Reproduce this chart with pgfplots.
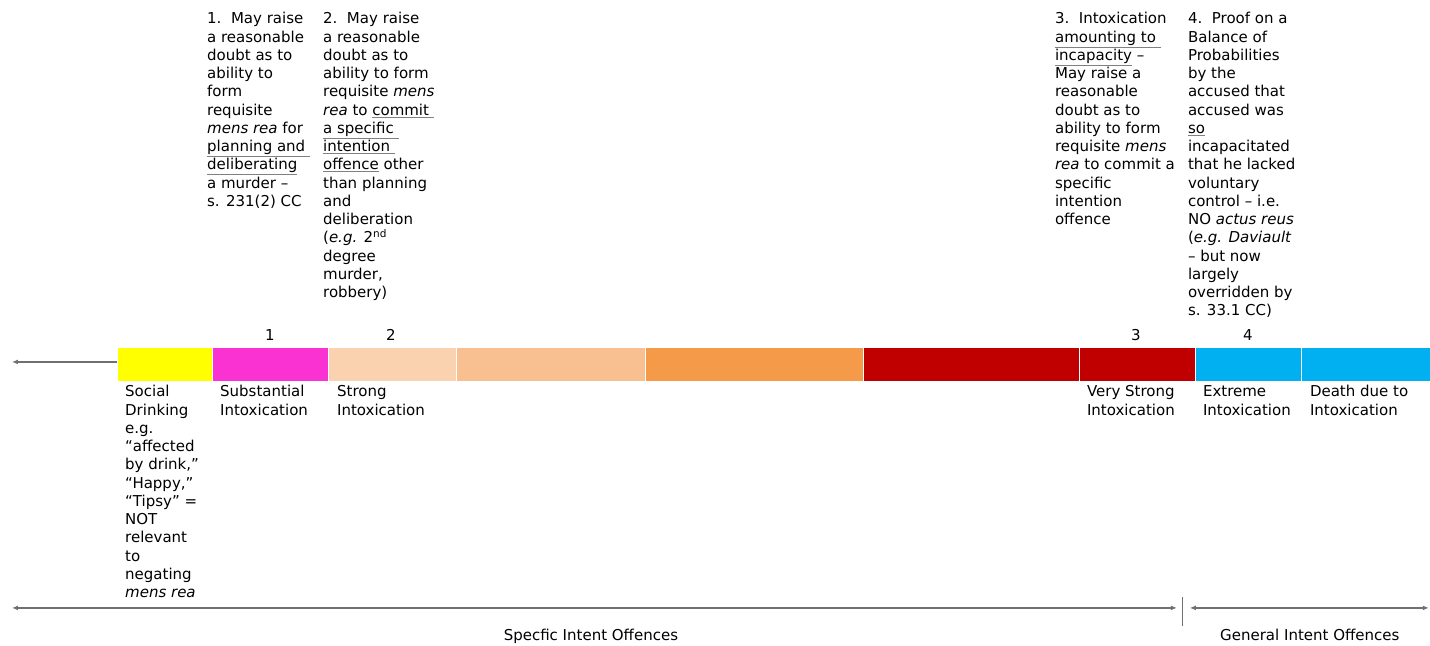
\documentclass[border=0pt]{standalone}
\usepackage{pgfplots}
\pgfplotsset{compat=1.18}
\usepackage{fontspec}
\setmainfont{DejaVu Sans}
\usetikzlibrary{arrows.meta}
\definecolor{cYel}{HTML}{FFFF00}
\definecolor{cMag}{HTML}{FA32D2}
\definecolor{cPeach1}{HTML}{FAD2B0}
\definecolor{cPeach2}{HTML}{F8BF90}
\definecolor{cOrange}{HTML}{F59A48}
\definecolor{cRed}{HTML}{C00000}
\definecolor{cBlue}{HTML}{00B0F0}
\definecolor{cLine}{HTML}{707070}
\newcommand{\ul}[1]{{\color{gray}\underline{\color{black}#1}}}
\begin{document}
\begin{tikzpicture}[
  txt/.style={anchor=north west, inner sep=0pt, align=left, font=\fontsize{15bp}{18.25bp}\selectfont},
  one/.style={anchor=base, inner sep=0pt, font=\fontsize{15bp}{18.25bp}\selectfont},
  arr/.style={cLine, line width=1.2bp},
]
\begin{axis}[
  width=1430bp, height=646bp, scale only axis,
  xmin=0, xmax=1430, ymin=0, ymax=646, y dir=reverse,
  hide axis, clip=false,
]
% bounding box
\addplot[draw=none, forget plot] coordinates {(0,0) (1430,646)};
% colour segments: x from, x to, y 347..381
\addplot[fill=cYel, draw=white, line width=0.4bp] coordinates {(117,347)(212,347)(212,381)(117,381)} -- cycle;
\addplot[fill=cMag, draw=white, line width=0.4bp] coordinates {(212,347)(328,347)(328,381)(212,381)} -- cycle;
\addplot[fill=cPeach1, draw=white, line width=0.4bp] coordinates {(328,347)(456,347)(456,381)(328,381)} -- cycle;
\addplot[fill=cPeach2, draw=white, line width=0.4bp] coordinates {(456,347)(645,347)(645,381)(456,381)} -- cycle;
\addplot[fill=cOrange, draw=white, line width=0.4bp] coordinates {(645,347)(863,347)(863,381)(645,381)} -- cycle;
\addplot[fill=cRed, draw=white, line width=0.4bp] coordinates {(863,347)(1079,347)(1079,381)(863,381)} -- cycle;
\addplot[fill=cRed, draw=white, line width=0.4bp] coordinates {(1079,347)(1195,347)(1195,381)(1079,381)} -- cycle;
\addplot[fill=cBlue, draw=white, line width=0.4bp] coordinates {(1195,347)(1301,347)(1301,381)(1195,381)} -- cycle;
\addplot[fill=cBlue, draw=white, line width=0.4bp] coordinates {(1301,347)(1430,347)(1430,381)(1301,381)} -- cycle;

% arrows
\draw[arr, -{Latex[length=6bp,width=5bp]}] (axis cs:117,362) -- (axis cs:12,362);
\draw[arr, {Latex[length=6bp,width=5bp]}-{Latex[length=6bp,width=5bp]}] (axis cs:12,608) -- (axis cs:1177,608);
\draw[arr, {Latex[length=6bp,width=5bp]}-{Latex[length=6bp,width=5bp]}] (axis cs:1190,608) -- (axis cs:1429,608);
\draw[cLine, line width=0.8bp] (axis cs:1183,597) -- (axis cs:1183,626);

% numbers above bar
\node[one] at (axis cs:270,341) {1};
\node[one] at (axis cs:391,341) {2};
\node[one] at (axis cs:1136,341) {3};
\node[one] at (axis cs:1248,341) {4};

% top blocks (top edge = first baseline - 12.78)
\node[txt] at (axis cs:207,11) {\strut 1.\ \ May raise\\a reasonable\\doubt as to\\ability to\\form\\requisite\\\textit{mens rea} for\\\ul{planning and }\\\ul{deliberating}\\a murder –\\s. 231(2) CC};
\node[txt] at (axis cs:323,11) {\strut 2.\ \ May raise\\a reasonable\\doubt as to\\ability to form\\requisite \textit{mens}\\\textit{rea} to \ul{commit }\\\ul{a specific }\\\ul{intention }\\\ul{offence} other\\than planning\\and\\deliberation\\(\textit{e.g.} 2\textsuperscript{nd}\\degree\\murder,\\robbery)};
\node[txt] at (axis cs:1055,11) {\strut 3.\ \ Intoxication\\\ul{amounting to }\\\ul{incapacity} –\\May raise a\\reasonable\\doubt as to\\ability to form\\requisite \textit{mens}\\\textit{rea} to commit a\\specific\\intention\\offence};
\node[txt] at (axis cs:1188,11) {\strut 4.\ \ Proof on a\\Balance of\\Probabilities\\by the\\accused that\\accused was\\\ul{so}\\incapacitated\\that he lacked\\voluntary\\control – i.e.\\NO \textit{actus reus}\\(\textit{e.g. Daviault}\\– but now\\largely\\overridden by\\s. 33.1 CC)};

% labels below bar
\node[txt] at (axis cs:125,384) {\strut Social\\Drinking\\e.g.\\“affected\\by drink,”\\“Happy,”\\“Tipsy” =\\NOT\\relevant\\to\\negating\\\textit{mens rea}};
\node[txt] at (axis cs:220,384) {\strut Substantial\\Intoxication};
\node[txt] at (axis cs:337,384) {\strut Strong\\Intoxication};
\node[txt] at (axis cs:1087,384) {\strut Very Strong\\Intoxication};
\node[txt] at (axis cs:1203,384) {\strut Extreme\\Intoxication};
\node[txt] at (axis cs:1310,384) {\strut Death due to\\Intoxication};

% bottom captions
\node[one] at (axis cs:591,641) {Specfic Intent Offences};
\node[one] at (axis cs:1310,641) {General Intent Offences};
\end{axis}
\end{tikzpicture}
\end{document}
